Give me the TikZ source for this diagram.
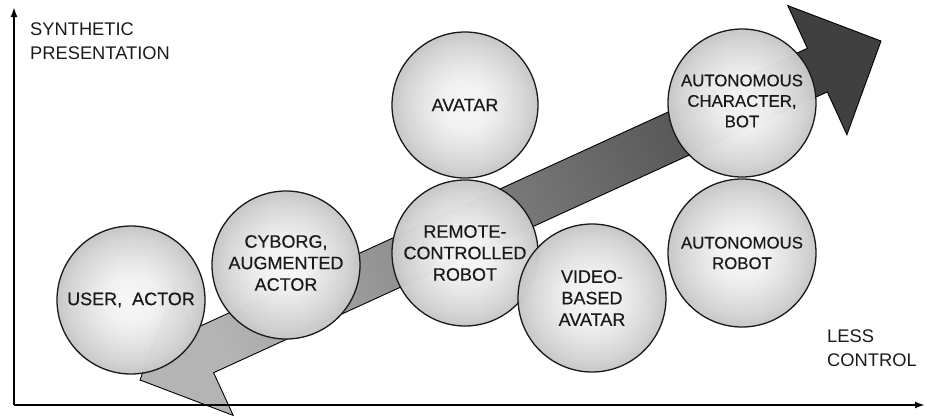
\documentclass[tikz,border=0pt]{standalone}
\usepackage{fontspec}
\setmainfont{Liberation Sans}
\usetikzlibrary{arrows.meta}
\definecolor{sphereA}{HTML}{F8F8F8}
\definecolor{sphereB}{HTML}{F0F0F0}
\definecolor{sphereC}{HTML}{D3D3D3}
\definecolor{sphereD}{HTML}{C6C6C6}
\definecolor{arrowlight}{HTML}{B4B4B4}
\definecolor{arrowdark}{HTML}{404040}
\definecolor{txt}{HTML}{1A1A1A}
\pgfdeclareradialshading{sphere}{\pgfpoint{0bp}{0bp}}{color(0bp)=(sphereA); color(9bp)=(sphereB); color(21bp)=(sphereC); color(25bp)=(sphereD); color(50bp)=(sphereD)}
\tikzset{
  ball/.style={circle, draw=black!90, line width=1.3pt, shade, shading=sphere,
    fill opacity=0.975, minimum size=148pt, inner sep=0pt},
  lab/.style={font=\fontsize{18}{21.5}\selectfont\addfontfeature{FakeBold=0.4}, align=center, text=txt, inner sep=0pt},
  smalllab/.style={lab, font=\fontsize{16.8}{20.5}\selectfont\addfontfeature{FakeBold=0.4}},
  axlab/.style={font=\fontsize{18.3}{23.5}\selectfont, align=left, anchor=north west, inner sep=0pt, text=txt},
  axisline/.style={line width=1.8pt, -{Latex[length=10pt,width=7pt]}},
  bigarrow/.style={draw=black, line width=0.9pt, left color=arrowlight, right color=arrowdark, shading angle=114.6}
}
\begin{document}
\begin{tikzpicture}[x=1pt, y=-1pt]
\useasboundingbox (0,0) rectangle (927,418);
% big double-headed arrow
\path[bigarrow] (140,380) -- (233.2,415.4) -- (213.6,372.7) -- (827.3,91.9)
  -- (846.9,134.7) -- (881,41) -- (787.8,5.6) -- (807.4,48.3)
  -- (193.7,329.1) -- (174.1,286.3) -- cycle;
% axes
\coordinate (origin) at (14,405);
\coordinate (ytip) at (14,7);
\coordinate (xtip) at (925,405);
\draw[axisline] (origin) -- (ytip);
\draw[axisline] (origin) -- (xtip);
% spheres
\node[ball] (user) at (131,300) {};
\node[ball] (cyborg) at (286,265) {};
\node[ball, minimum size=146pt] (avatar) at (465,105) {};
\node[ball, minimum size=146pt] (remote) at (465,253) {};
\node[ball] (video) at (592,298) {};
\node[ball] (character) at (742,103) {};
\node[ball] (arobot) at (742,253) {};
% labels
\node[lab] (userlab) at (user.center) {USER,\ \ ACTOR};
\node[lab] (cyborglab) at ([yshift=2pt]cyborg.center) {CYBORG,\\AUGMENTED\\ACTOR};
\node[lab] (avatarlab) at (avatar.center) {AVATAR};
\node[lab] (remotelab) at (remote.center) {REMOTE-\\CONTROLLED\\ROBOT};
\node[lab] (videolab) at (video.center) {VIDEO-\\BASED\\AVATAR};
\node[smalllab] (characterlab) at ([yshift=2pt]character.center) {AUTONOMOUS\\CHARACTER,\\BOT};
\node[smalllab] (arobotlab) at (arobot.center) {AUTONOMOUS\\ROBOT};
\node[axlab] (ylab) at (30,23) {SYNTHETIC\\PRESENTATION};
\node[axlab] (xlab) at (827,330) {LESS\\CONTROL};
\end{tikzpicture}
\end{document}
